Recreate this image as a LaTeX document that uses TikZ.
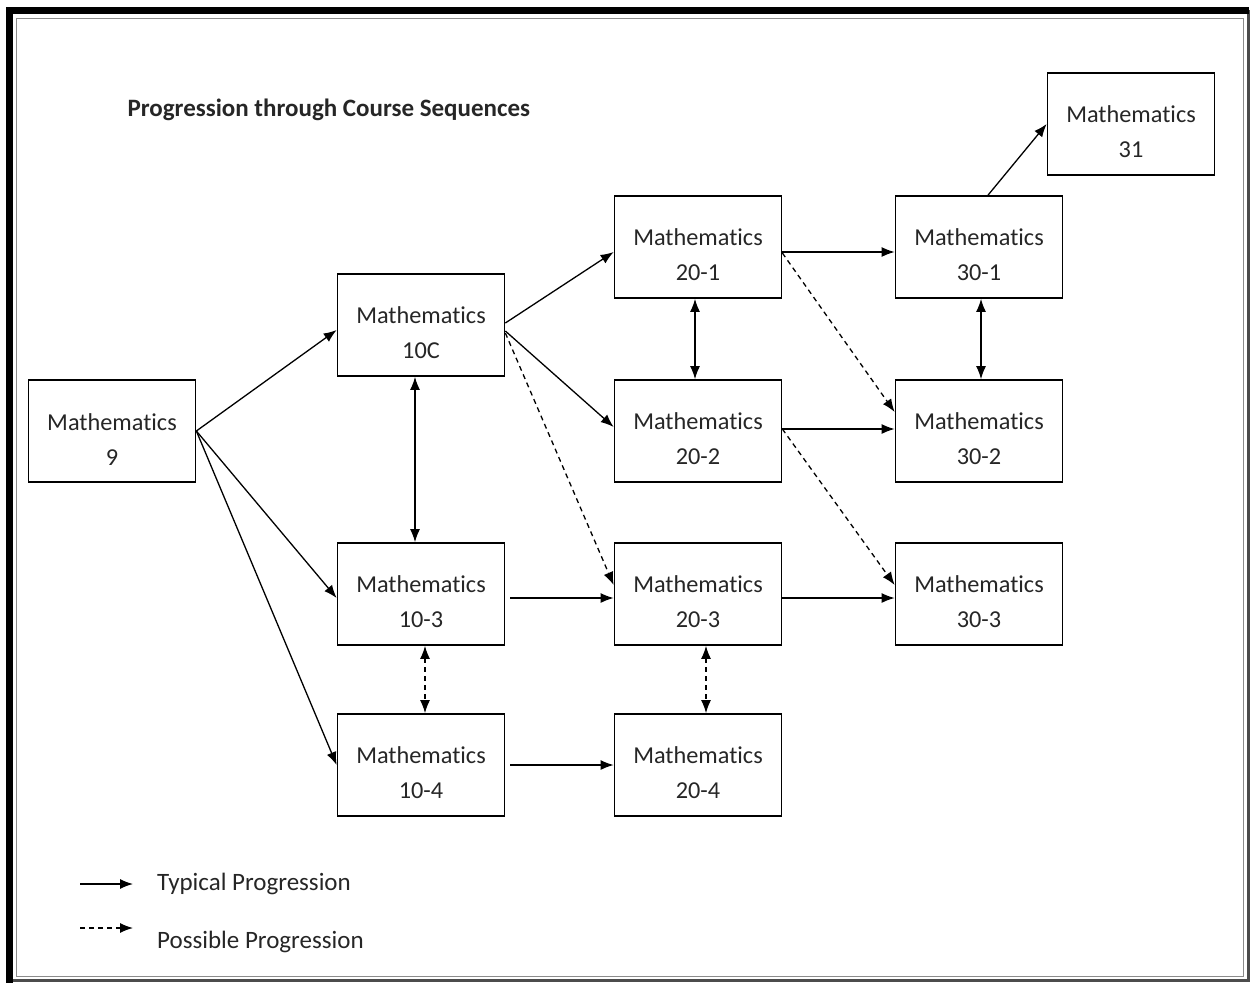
\documentclass[tikz,border=0pt]{standalone}
\usepackage{fontspec}
\setmainfont[Ligatures={NoCommon}]{Carlito}
\usetikzlibrary{arrows.meta, positioning}

\tikzset{
	course/.style={draw, line width=1.7pt, minimum width=167pt, minimum height=102pt, align=center, inner sep=0pt, font=\fontsize{24.3}{35}\selectfont, text=black!85, text height=68pt},
	typical/.style={line width=1.3pt, -{Latex[length=13pt,width=10pt]}},
	possible/.style={typical, dash pattern=on 5pt off 4pt},
	both/.style={line width=1.3pt, {Latex[length=13pt,width=10pt]}-{Latex[length=13pt,width=10pt]}},
	bothdash/.style={both, dash pattern=on 5pt off 4pt}
}

\begin{document}
\begin{tikzpicture}[x=1pt,y=-1pt]
			\useasboundingbox (0,0) rectangle (1252,982);
			% frame
			\draw[line width=3pt, black!70] (9,12) rectangle (1248,980);
			\draw[line width=1pt, black!45] (16,19) rectangle (1243,976);
			\draw[line width=7pt, black] (9,983) -- (9,11) -- (1249,11);

			\node[anchor=west, font=\fontsize{25}{30}\selectfont\bfseries, text=black!85] (title) at (124,110) {Progression through Course Sequences};

			\node[course] (m9) at (112,431) {Mathematics\\9};
			\node[course] (m10c) at (421,325) {Mathematics\\10C};
			\node[course] (m103) at (421,594) {Mathematics\\10-3};
			\node[course] (m104) at (421,765) {Mathematics\\10-4};
			\node[course] (m201) at (698,247) {Mathematics\\20-1};
			\node[course] (m202) at (698,431) {Mathematics\\20-2};
			\node[course] (m203) at (698,594) {Mathematics\\20-3};
			\node[course] (m204) at (698,765) {Mathematics\\20-4};
			\node[course] (m301) at (979,247) {Mathematics\\30-1};
			\node[course] (m302) at (979,431) {Mathematics\\30-2};
			\node[course] (m303) at (979,594) {Mathematics\\30-3};
			\node[course] (m31) at (1131,124) {Mathematics\\31};

			\draw[typical] (m9.east) -- ([yshift=-5pt]m10c.west);
			\draw[typical] (m9.east) -- ([yshift=-4pt]m103.west);
			\draw[typical] (m9.east) -- (m104.west);
			\draw[typical] ([yshift=2pt]m10c.east) -- ([yshift=-5pt]m201.west);
			\draw[typical] ([yshift=-6pt]m10c.east) -- ([yshift=4pt]m202.west);
			\draw[possible] ([yshift=-8pt]m10c.east) -- ([yshift=9pt]m203.west);
			\draw[both] ([xshift=-6pt]m10c.south) -- ([xshift=-6pt]m103.north);
			\draw[typical] ([xshift=5pt,yshift=-4pt]m103.east) -- ([yshift=-4pt]m203.west);
			\draw[bothdash] ([xshift=4pt]m103.south) -- ([xshift=4pt]m104.north);
			\draw[typical] ([xshift=5pt]m104.east) -- (m204.west);
			\draw[both] ([xshift=-3pt]m201.south) -- ([xshift=-3pt]m202.north);
			\draw[bothdash] ([xshift=8pt]m203.south) -- ([xshift=8pt]m204.north);
			\draw[typical] ([yshift=-5pt]m201.east) -- ([yshift=-5pt]m301.west);
			\draw[possible] ([yshift=-6pt]m201.east) -- ([yshift=19pt]m302.west);
			\draw[typical] ([yshift=2pt]m202.east) -- ([yshift=2pt]m302.west);
			\draw[possible] ([yshift=2pt]m202.east) -- ([yshift=9pt]m303.west);
			\draw[typical] ([yshift=-4pt]m203.east) -- ([yshift=-4pt]m303.west);
			\draw[both] ([xshift=2pt]m301.south) -- ([xshift=2pt]m302.north);
			\draw[typical] ([xshift=9pt]m301.north) -- (m31.west);

			% legend
			\coordinate (ta) at (80,884);
			\coordinate (tb) at (133,884);
			\coordinate (pa) at (80,928);
			\coordinate (pb) at (133,928);
			\draw[typical] (ta) -- (tb);
			\draw[possible] (pa) -- (pb);
			\node[anchor=west, inner sep=0pt, font=\fontsize{25}{30}\selectfont, text=black!85] (typtext) at (157,884) {Typical Progression};
			\node[anchor=west, inner sep=0pt, font=\fontsize{25}{30}\selectfont, text=black!85] (postext) at (157,942) {Possible Progression};
		\end{tikzpicture}
\end{document}
